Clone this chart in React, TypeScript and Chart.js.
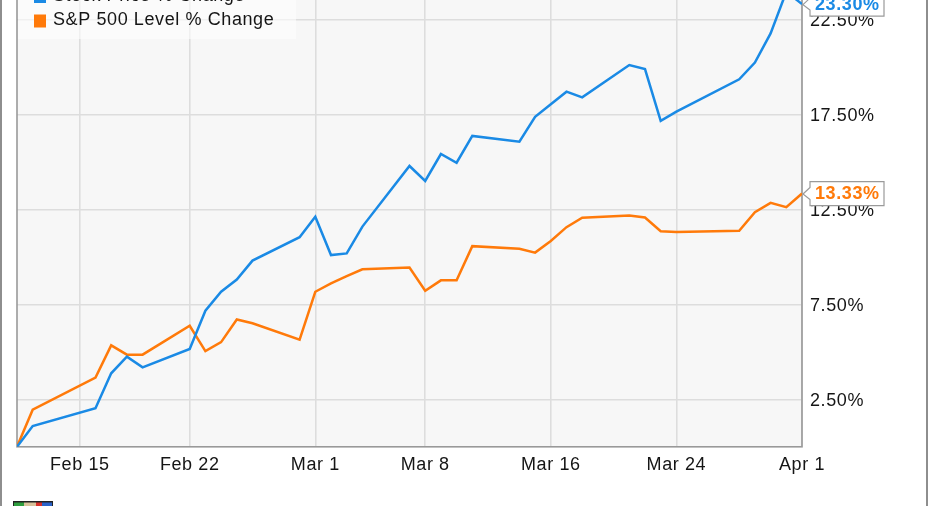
import React, { useEffect, useRef } from "react";
import { Chart, registerables } from "chart.js";

Chart.register(...registerables);

// ---- data ----
const START_DATE = "2016-02-11";
const tradingDates = [
  "2016-02-11", "2016-02-12", "2016-02-16", "2016-02-17", "2016-02-18", "2016-02-19",
  "2016-02-22", "2016-02-23", "2016-02-24", "2016-02-25", "2016-02-26", "2016-02-29",
  "2016-03-01", "2016-03-02", "2016-03-03", "2016-03-04", "2016-03-07", "2016-03-08",
  "2016-03-09", "2016-03-10", "2016-03-11", "2016-03-14", "2016-03-15", "2016-03-16",
  "2016-03-17", "2016-03-18", "2016-03-21", "2016-03-22", "2016-03-23", "2016-03-24",
  "2016-03-28", "2016-03-29", "2016-03-30", "2016-03-31", "2016-04-01",
];
const stockPctChange = [
  0, 1.09, 2.03, 3.87, 4.74, 4.18,
  5.15, 7.16, 8.16, 8.8, 9.8, 11.03,
  12.11, 10.09, 10.18, 11.59, 14.78, 13.99,
  15.41, 14.95, 16.36, 16.06, 17.37, 18.03,
  18.69, 18.39, 20.09, 19.88, 17.16, 17.64,
  19.34, 20.22, 21.76, 23.95, 23.3,
];
const spxPctChange = [
  0, 1.95, 3.64, 5.34, 4.85, 4.85,
  6.37, 5.04, 5.51, 6.7, 6.5, 5.64,
  8.16, 8.6, 8.98, 9.34, 9.44, 8.21,
  8.76, 8.77, 10.56, 10.42, 10.22, 10.83,
  11.56, 12.06, 12.17, 12.07, 11.35, 11.31,
  11.37, 12.35, 12.84, 12.61, 13.33,
];
const seriesNames = ["Stock Price % Change", "S&P 500 Level % Change"];
const seriesColors = ["#1a8ae5", "#ff7a0a"];
const xTickDates = ["2016-02-15", "2016-02-22", "2016-03-01", "2016-03-08", "2016-03-16", "2016-03-24", "2016-04-01"];
const xTickLabels = ["Feb 15", "Feb 22", "Mar 1", "Mar 8", "Mar 16", "Mar 24", "Apr 1"];
const yTickValues = [2.5, 7.5, 12.5, 17.5, 22.5];
const yMin = 0;
const yMax = 25;

const dayOffset = (s: string) => {
  const [y, m, d] = s.split("-").map(Number);
  const [y0, m0, d0] = START_DATE.split("-").map(Number);
  return (Date.UTC(y, m - 1, d) - Date.UTC(y0, m0 - 1, d0)) / 86400000;
};

const FONT = "'Liberation Sans', Arial, Helvetica, sans-serif";
const TEXT = "#151515";
const W = 931;
const H = 566;
const OFFSET = 60; // canvas is shifted up; the top of the chart is cropped

const decorPlugin = {
  id: "decor",
  beforeDraw(chart: any) {
    const { ctx, chartArea: a } = chart;
    ctx.save();
    ctx.fillStyle = "#ffffff";
    ctx.fillRect(0, 0, chart.width, chart.height);
    ctx.fillStyle = "#f7f7f7";
    ctx.fillRect(a.left, a.top, a.right - a.left, a.bottom - a.top);
    ctx.restore();
    (ctx as any).letterSpacing = "0.6px";
  },
  beforeDatasetsDraw(chart: any) {
    const { ctx, chartArea: a } = chart;
    ctx.save();
    // legend box
    ctx.fillStyle = "rgba(255,255,255,0.55)";
    ctx.fillRect(a.left + 1, 0, 278, 39 + OFFSET);
    ctx.font = `18px ${FONT}`;
    ctx.textBaseline = "middle";
    ctx.textAlign = "left";
    const rows = [-4 + OFFSET, 20.5 + OFFSET];
    seriesNames.forEach((name, i) => {
      ctx.fillStyle = seriesColors[i];
      ctx.fillRect(34, rows[i] - 6, 12, 13);
      ctx.fillStyle = TEXT;
      ctx.fillText(name, 53, rows[i]);
    });
    // plot border
    ctx.strokeStyle = "#999999";
    ctx.lineWidth = 1.6;
    ctx.strokeRect(a.left, a.top, a.right - a.left, a.bottom - a.top);
    // outer frame
    ctx.strokeStyle = "#8e8e8e";
    ctx.lineWidth = 2;
    ctx.beginPath();
    ctx.moveTo(1, 0);
    ctx.lineTo(1, chart.height);
    ctx.moveTo(927, 0);
    ctx.lineTo(927, chart.height);
    ctx.stroke();
    // small logo at the bottom left
    const lx = 13, ly = 501 + OFFSET;
    ctx.fillStyle = "#222";
    ctx.fillRect(lx, ly, 40, 14);
    ctx.fillStyle = "#2e9e3e";
    ctx.fillRect(lx + 1, ly + 1.5, 10, 12);
    ctx.fillStyle = "#d8c29a";
    ctx.fillRect(lx + 11, ly + 1.5, 12, 12);
    ctx.fillStyle = "#d9302a";
    ctx.fillRect(lx + 23, ly + 1.5, 6, 12);
    ctx.fillStyle = "#2a62c9";
    ctx.fillRect(lx + 29, ly + 1.5, 10, 12);
    ctx.restore();
  },
  afterDraw(chart: any) {
    const { ctx } = chart;
    ctx.save();
    chart.data.datasets.forEach((ds: any, i: number) => {
      const meta = chart.getDatasetMeta(i);
      const pt = meta.data[meta.data.length - 1];
      if (!pt) return;
      const x = pt.x;
      const y = pt.y;
      const bl = x + 8, br = x + 82, bt = y - 12, bb = y + 12;
      ctx.beginPath();
      ctx.moveTo(x + 1, y + 0.5);
      ctx.lineTo(bl, y - 6);
      ctx.lineTo(bl, bt);
      ctx.lineTo(br, bt);
      ctx.lineTo(br, bb);
      ctx.lineTo(bl, bb);
      ctx.lineTo(bl, y + 6);
      ctx.closePath();
      ctx.fillStyle = "#ffffff";
      ctx.fill();
      ctx.strokeStyle = "#9a9a9a";
      ctx.lineWidth = 1.2;
      ctx.stroke();
      const v = ds.data[ds.data.length - 1].y;
      ctx.font = `bold 18px ${FONT}`;
      ctx.textAlign = "left";
      ctx.textBaseline = "middle";
      ctx.fillStyle = seriesColors[i];
      ctx.fillText(v.toFixed(2) + "%", x + 13, y + 0.5);
    });
    ctx.restore();
    (ctx as any).letterSpacing = "0px";
  },
};

export default function App() {
  const ref = useRef<HTMLCanvasElement | null>(null);
  useEffect(() => {
    if (!ref.current) return;
    const xs = tradingDates.map(dayOffset);
    const chart = new Chart(ref.current, {
      type: "line",
      data: {
        datasets: [
          {
            label: seriesNames[0],
            data: xs.map((x, i) => ({ x, y: stockPctChange[i] })),
            borderColor: seriesColors[0],
            borderWidth: 2.5,
            pointRadius: 0,
            tension: 0,
            fill: false,
          },
          {
            label: seriesNames[1],
            data: xs.map((x, i) => ({ x, y: spxPctChange[i] })),
            borderColor: seriesColors[1],
            borderWidth: 2.5,
            pointRadius: 0,
            tension: 0,
            fill: false,
          },
        ],
      },
      options: {
        animation: false,
        responsive: false,
        devicePixelRatio: 1,
        layout: { padding: { left: 17, right: 0, top: OFFSET - 28.2, bottom: 0 } },
        plugins: { legend: { display: false }, tooltip: { enabled: false } },
        scales: {
          x: {
            type: "linear",
            min: 0,
            max: dayOffset(xTickDates[xTickDates.length - 1]),
            afterBuildTicks: (s: any) => {
              s.ticks = xTickDates.map((d) => ({ value: dayOffset(d) }));
            },
            afterFit: (s: any) => {
              s.height = 59.2;
            },
            grid: { color: "#dddddd", lineWidth: 1.6, drawTicks: false },
            border: { display: false },
            ticks: {
              padding: 7,
              maxRotation: 0,
              autoSkip: false,
              color: TEXT,
              font: { family: FONT, size: 18 },
              callback: (_v: any, i: number) => xTickLabels[i],
            },
          },
          y: {
            type: "linear",
            position: "right",
            min: yMin,
            max: yMax,
            afterBuildTicks: (s: any) => {
              s.ticks = yTickValues.map((v) => ({ value: v }));
            },
            afterFit: (s: any) => {
              s.width = 129;
            },
            grid: { color: "#dddddd", lineWidth: 1.6, drawTicks: false },
            border: { display: false },
            ticks: {
              padding: 8,
              labelOffset: 2,
              autoSkip: false,
              color: TEXT,
              font: { family: FONT, size: 18 },
              callback: (v: any) => Number(v).toFixed(2) + "%",
            },
          },
        },
      },
      plugins: [decorPlugin],
    } as any);
    return () => chart.destroy();
  }, []);
  return (
    <div style={{ position: "fixed", left: 0, top: -OFFSET, width: W, height: H, background: "#fff" }}>
      <canvas ref={ref} width={W} height={H} style={{ display: "block", width: W, height: H }} />
    </div>
  );
}
